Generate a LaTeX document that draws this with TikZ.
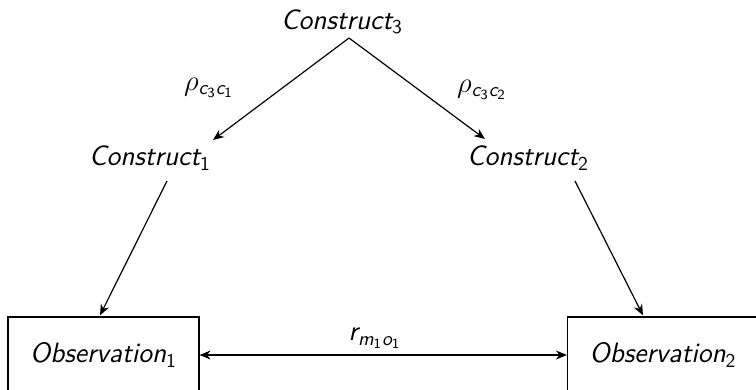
\documentclass[tikz,border=0pt]{standalone}
\usepackage{amsmath}
\usetikzlibrary{arrows.meta,calc}
\tikzset{
  lbl/.style={font=\fontsize{14}{17}\selectfont\sffamily\itshape, inner sep=1pt},
  obsbox/.style={lbl, draw, line width=0.6pt, minimum width=95.5pt, minimum height=38pt, inner sep=0pt},
  arr/.style={line width=0.6pt, -{Stealth[length=5.5pt,width=4.5pt]}},
  darr/.style={line width=0.6pt, {Stealth[length=5.5pt,width=4.5pt]}-{Stealth[length=5.5pt,width=4.5pt]}}
}
\newcommand\up[1]{\text{\upshape #1}}
\begin{document}
\begin{tikzpicture}[x=0.5pt,y=-0.5pt]
\useasboundingbox (0,0) rectangle (756,390);
\clip (0,0) rectangle (756,390);
\node[lbl] (c3) at (342,22) {Construct$_{\up{3}}$};
\node[lbl] (c1) at (150,158) {Construct$_{\up{1}}$};
\node[lbl] (c2) at (528,158) {Construct$_{\up{2}}$};
\node[obsbox] (o1) at (103.5,355) {Observation$_{\up{1}}$};
\node[obsbox] (o2) at (663,355) {Observation$_{\up{2}}$};
\node[lbl] (l1) at (209,88) {$\rho_{\text{c}_{\up{3}}\text{c}_{\up{1}}}$};
\node[lbl] (l2) at (482,90) {$\rho_{\text{c}_{\up{3}}\text{c}_{\up{2}}}$};
\node[lbl] (l3) at (375,338) {r$_{\text{m}_{\up{1}}\text{o}_{\up{1}}}$};
\coordinate (apex) at ($(c3)+(7,16)$);
\draw[arr] (apex) -- ($(c1)+(63,-18)$);
\draw[arr] (apex) -- ($(c2)+(-43,-19)$);
\draw[arr] ($(c1)+(17,23)$) -- ($(o1.north)+(-3.5,-1)$);
\draw[arr] ($(c2)+(47,23)$) -- ($(o2.north)+(-20,-1)$);
\draw[darr] (o1.east) -- (o2.west);
\end{tikzpicture}
\end{document}
